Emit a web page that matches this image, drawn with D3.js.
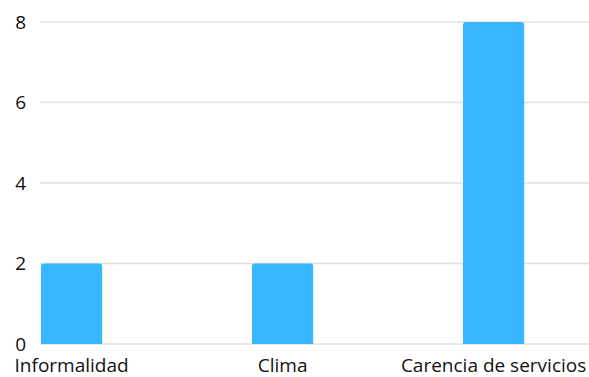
<!DOCTYPE html>
<html><head><meta charset="utf-8">
<script src="https://cdn.jsdelivr.net/npm/d3@7"></script>
<style>body{margin:0;background:#fff}svg{display:block}</style>
</head><body>
<script>
const categories = ["Informalidad", "Clima", "Carencia de servicios"];
const values = [2, 2, 8];
const yTicks = [0, 2, 4, 6, 8];

const W = 589, H = 377;
const svg = d3.select("body").append("svg").attr("width", W).attr("height", H);
const font = "'Open Sans', sans-serif";

const y = d3.scaleLinear().domain([0, 8]).range([344, 22]);
const x = d3.scaleBand().domain(categories).range([40, 673]).paddingInner(0);
const barW = x.bandwidth() * 0.29;

// gridlines
svg.append("g").selectAll("line").data(yTicks).join("line")
  .attr("x1", 40).attr("x2", W)
  .attr("y1", d => y(d)).attr("y2", d => y(d))
  .attr("stroke", "#e0e0e0").attr("stroke-width", 1.5);

// y tick labels
svg.append("g").selectAll("text").data(yTicks).join("text")
  .attr("x", 26).attr("y", d => y(d)).attr("dy", "0.35em")
  .attr("text-anchor", "end")
  .style("font-family", font).style("font-size", "19px").attr("fill", "#111")
  .text(d => d);

// bars with rounded top corners
const r = 3;
svg.append("g").selectAll("path").data(categories).join("path")
  .attr("fill", "#38b6ff")
  .attr("d", (c, i) => {
    const x0 = x(c) + 1, x1 = x0 + barW, y0 = y(values[i]), yb = y(0);
    return `M${x0},${yb}V${y0 + r}Q${x0},${y0} ${x0 + r},${y0}H${x1 - r}Q${x1},${y0} ${x1},${y0 + r}V${yb}Z`;
  });

// x labels
svg.append("g").selectAll("text").data(categories).join("text")
  .attr("x", c => x(c) + 1 + barW / 2).attr("y", 372)
  .attr("text-anchor", "middle")
  .style("font-family", font).style("font-size", "19px").attr("fill", "#111")
  .text(c => c);
</script>
</body></html>
